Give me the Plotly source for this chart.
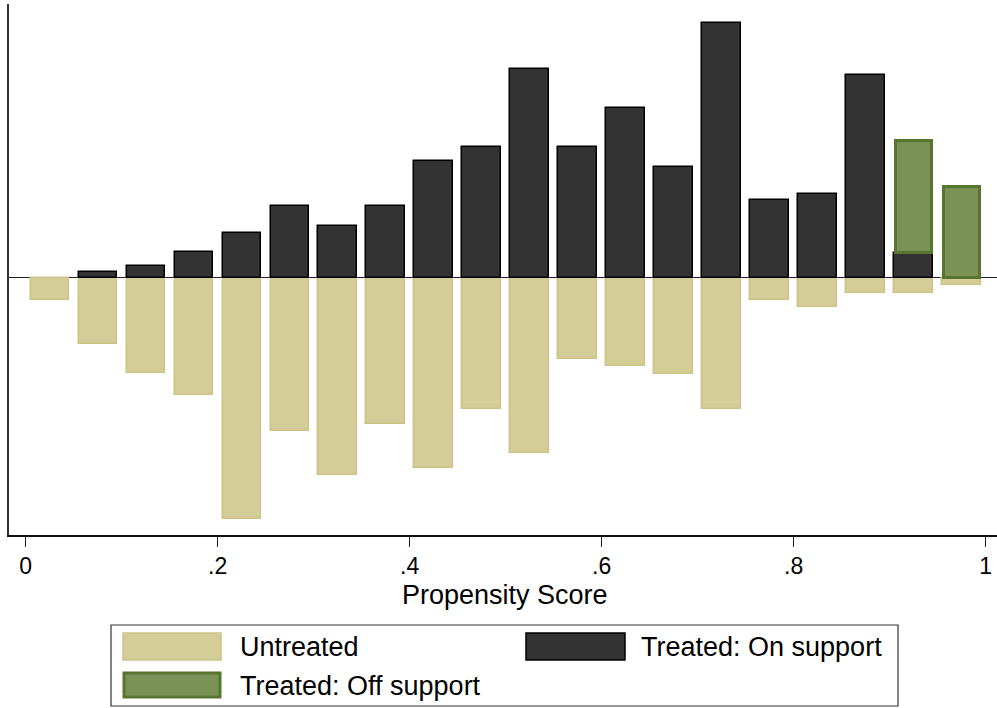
import plotly.graph_objects as go

# Bin centres of the propensity-score histogram (bin width .05)
bins = [0.025, 0.075, 0.125, 0.175, 0.225, 0.275, 0.325, 0.375, 0.425, 0.475,
        0.525, 0.575, 0.625, 0.675, 0.725, 0.775, 0.825, 0.875, 0.925, 0.975]

# Heights (arbitrary density units)
untreated = [22, 66, 95, 117, 241, 153, 197, 146, 190, 131,
             175, 81, 88, 96, 131, 22, 29, 15, 15, 7]
treated_on = [0, 6, 12, 26, 45, 72, 52, 72, 117, 131,
              209, 131, 170, 111, 255, 78, 84, 203, 25, 0]
treated_off = [0, 0, 0, 0, 0, 0, 0, 0, 0, 0,
               0, 0, 0, 0, 0, 0, 0, 0, 112, 91]

tick_vals = [0, 0.2, 0.4, 0.6, 0.8, 1]
tick_text = ["0", ".2", ".4", ".6", ".8", "1"]

C_UNT_FILL = "#d4cd98"
C_UNT_LINE = "#cbc486"
C_ON_FILL = "#333333"
C_ON_LINE = "#000000"
C_OFF_FILL = "#7a9256"
C_OFF_LINE = "#56752e"

FONT = "Liberation Sans, Arial, Helvetica, sans-serif"

fig = go.Figure()

fig.add_trace(go.Bar(
    x=bins, y=[-v for v in untreated], width=0.04,
    marker=dict(color=C_UNT_FILL, line=dict(color=C_UNT_LINE, width=1.5)),
    name="Untreated", showlegend=False))

on_x = [b for b, v in zip(bins, treated_on) if v > 0]
on_y = [v for v in treated_on if v > 0]
fig.add_trace(go.Bar(
    x=on_x, y=on_y, width=0.04,
    marker=dict(color=C_ON_FILL, line=dict(color=C_ON_LINE, width=1.5)),
    name="Treated: On support", showlegend=False))

off_x = [b for b, v in zip(bins, treated_off) if v > 0]
off_y = [v for v in treated_off if v > 0]
off_base = [t for t, v in zip(treated_on, treated_off) if v > 0]
fig.add_trace(go.Bar(
    x=off_x, y=off_y, base=off_base, width=0.0375,
    marker=dict(color=C_OFF_FILL, line=dict(color=C_OFF_LINE, width=3)),
    name="Treated: Off support", showlegend=False))

# plot-area geometry helpers (paper coords)
L, R, T, B = 9, 997, 4, 535
W, H = 997, 708


def px(xp):
    return (xp - L) / (R - L)


def py(yp):
    return (B - yp) / (B - T)


shapes = [
    dict(type="line", xref="paper", yref="y", x0=0, x1=1, y0=0, y1=0,
         line=dict(color="#222222", width=1.2), layer="below"),
    # legend box
    dict(type="rect", xref="paper", yref="paper", x0=px(111), x1=px(898),
         y0=py(706), y1=py(625), line=dict(color="#333333", width=1.2),
         fillcolor="white"),
    dict(type="rect", xref="paper", yref="paper", x0=px(123), x1=px(221),
         y0=py(660), y1=py(633), line=dict(color=C_UNT_LINE, width=1.5),
         fillcolor=C_UNT_FILL),
    dict(type="rect", xref="paper", yref="paper", x0=px(526), x1=px(625),
         y0=py(660), y1=py(633), line=dict(color=C_ON_LINE, width=1.5),
         fillcolor=C_ON_FILL),
    dict(type="rect", xref="paper", yref="paper", x0=px(124), x1=px(220),
         y0=py(697), y1=py(673), line=dict(color=C_OFF_LINE, width=3),
         fillcolor=C_OFF_FILL),
]

legend_font = dict(family=FONT, size=27, color="black")
annotations = [
    dict(text="Untreated", xref="paper", yref="paper", x=px(238), y=py(647),
         xanchor="left", yanchor="middle", showarrow=False, font=legend_font),
    dict(text="Treated: On support", xref="paper", yref="paper", x=px(639),
         y=py(647), xanchor="left", yanchor="middle", showarrow=False,
         font=legend_font),
    dict(text="Treated: Off support", xref="paper", yref="paper", x=px(238),
         y=py(686), xanchor="left", yanchor="middle", showarrow=False,
         font=legend_font),
    dict(text="Propensity Score", xref="paper", yref="paper", x=px(505),
         y=py(595), xanchor="center", yanchor="middle", showarrow=False,
         font=dict(family=FONT, size=27, color="black")),
]

fig.update_layout(
    width=W, height=H,
    margin=dict(l=L, r=W - R, t=T, b=H - B, pad=0),
    plot_bgcolor="white", paper_bgcolor="white",
    barmode="overlay", bargap=0,
    shapes=shapes, annotations=annotations,
    showlegend=False,
    font=dict(family=FONT, color="black"),
)

fig.update_xaxes(
    range=[-0.0174, 1.0118], tickvals=tick_vals, ticktext=tick_text,
    ticks="outside", ticklen=10, tickwidth=1.2, tickcolor="#222222",
    tickfont=dict(family=FONT, size=23, color="black"),
    showline=True, linecolor="#111111", linewidth=1.5,
    showgrid=False, zeroline=False,
)
fig.update_yaxes(
    range=[-257.5, 273.5], showticklabels=False, ticks="",
    showline=True, linecolor="#333333", linewidth=1.8,
    showgrid=False, zeroline=False,
)

fig.write_html(
    "out.html",
    config={"displayModeBar": False},
    post_script="document.body.style.margin='0';document.body.style.padding='0';"
                "document.body.style.overflow='hidden';",
)
